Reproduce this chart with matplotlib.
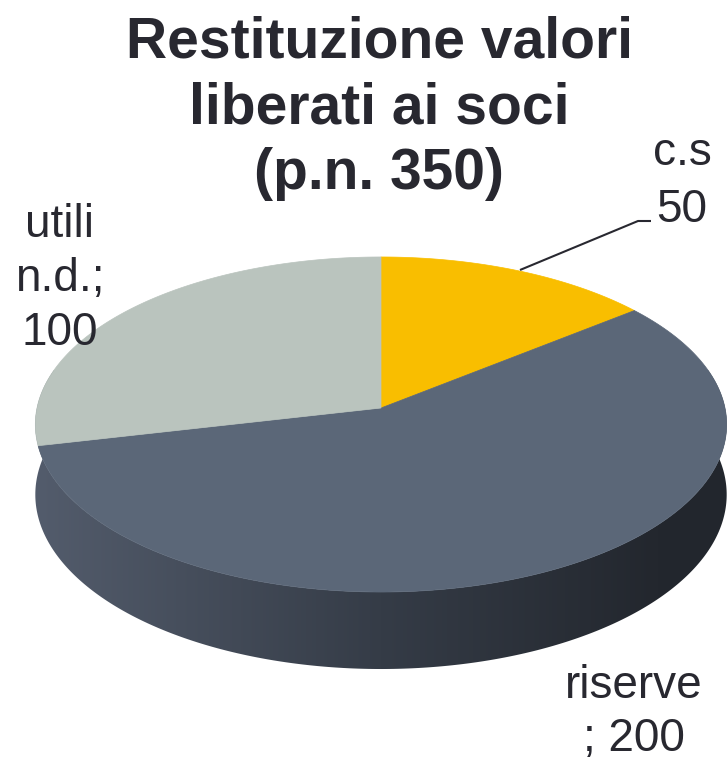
import matplotlib.pyplot as plt
import numpy as np
from matplotlib.patches import Polygon
from matplotlib.colors import LinearSegmentedColormap

# data
categories = ['c.s', 'riserve', 'utili n.d.']
values = [50, 200, 100]
label_lines = [['c.s', '{v}'], ['riserve', '; {v}'], ['utili', 'n.d.;', '{v}']]
top_colors = ['#F9BE00', '#5B6778', '#BAC4BE']
title_lines = ['Restituzione valori', 'liberati ai soci', '(p.n. 350)']

plt.rcParams['font.family'] = ['Liberation Sans', 'DejaVu Sans']

W, H = 727, 764
fig = plt.figure(figsize=(W / 100, H / 100), dpi=100)
ax = fig.add_axes([0, 0, 1, 1])
ax.set_xlim(0, W)
ax.set_ylim(H, 0)
ax.axis('off')

# pie geometry (pixels) with a little perspective
CX, CY, A, B, K, D = 381, 408, 344, 165.9, 0.0985, 69.4


def proj(t, drop=0.0):
    X, Y = np.cos(t), np.sin(t)
    s = 1 / (1 + K * Y)
    return CX + A * X * s, CY - B * Y * s + drop * s


total = sum(values)
starts = []
a = 90.0
for v in values:
    starts.append((a, a - 360.0 * v / total))
    a -= 360.0 * v / total

# side wall: one polygon filled with a horizontal gradient
ts = np.radians(np.linspace(160, 380, 400))
top_arc = [proj(t) for t in ts]
bot_arc = [proj(t, D) for t in ts[::-1]]
side = Polygon(top_arc + bot_arc, closed=True, facecolor='none',
               edgecolor='none')
ax.add_patch(side)
side_cmap = LinearSegmentedColormap.from_list(
    'side', [(0, '#535C6C'), (0.5, '#353C47'), (0.9, '#23272E'),
             (1, '#22262D')])
grad = np.linspace(0, 1, 256)[None, :]
im = ax.imshow(grad, cmap=side_cmap, aspect='auto',
               extent=[35, 727, 680, 370], interpolation='bilinear')
im.set_clip_path(side)

# top face
for i, (s0, s1) in enumerate(starts):
    ts = np.radians(np.linspace(s0, s1, 200))
    pts = [(CX, CY)] + [proj(t) for t in ts]
    ax.add_patch(Polygon(pts, closed=True, facecolor=top_colors[i],
                         edgecolor=top_colors[i], lw=0.5))

ax.set_xlim(0, W)
ax.set_ylim(H, 0)

# title
txt = '#282830'
for k, line in enumerate(title_lines):
    ax.text(379, 57 + k * 66, line, fontsize=41, fontweight='bold',
            color=txt, ha='center', va='baseline')

# data labels
label_pos = [(682, 165, 57), (634, 698, 53), (60, 237, 54)]
for i, lines in enumerate(label_lines):
    x, y, sp = label_pos[i]
    for k, line in enumerate(lines):
        ax.text(x, y + k * sp, line.format(v=values[i]), fontsize=33,
                color=txt, ha='center', va='baseline')

# leader line for the small slice
ax.plot([520, 638, 651], [270, 221, 221], color=txt, lw=1.5,
        solid_capstyle='butt')

fig.savefig('out.png', dpi=100)
